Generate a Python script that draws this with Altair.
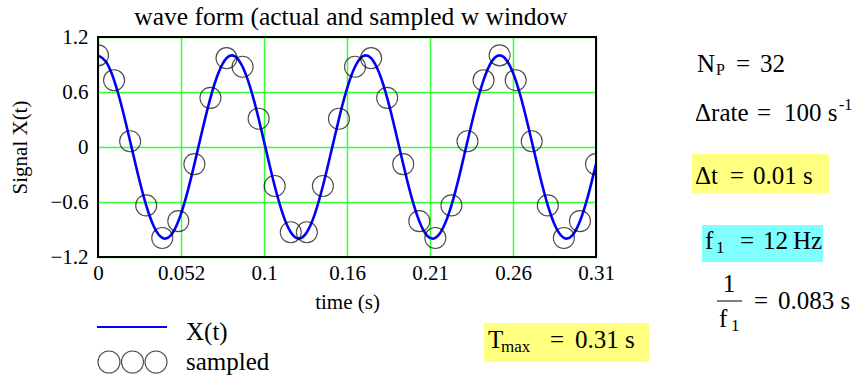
import altair as alt
import pandas as pd

SERIF = "'Liberation Serif', 'Times New Roman', Times, 'DejaVu Serif', serif"

# continuous signal X(t) = cos(2*pi*12*t), read at 5 ms steps
t_curve = [0.000, 0.005, 0.010, 0.015, 0.020, 0.025, 0.030, 0.035, 0.040, 0.045,
           0.050, 0.055, 0.060, 0.065, 0.070, 0.075, 0.080, 0.085, 0.090, 0.095,
           0.100, 0.105, 0.110, 0.115, 0.120, 0.125, 0.130, 0.135, 0.140, 0.145,
           0.150, 0.155, 0.160, 0.165, 0.170, 0.175, 0.180, 0.185, 0.190, 0.195,
           0.200, 0.205, 0.210, 0.215, 0.220, 0.225, 0.230, 0.235, 0.240, 0.245,
           0.250, 0.255, 0.260, 0.265, 0.270, 0.275, 0.280, 0.285, 0.290, 0.295,
           0.300, 0.305, 0.310]
x_curve = [1.000, 0.930, 0.729, 0.426, 0.063, -0.309, -0.637, -0.876, -0.992, -0.969,
           -0.809, -0.536, -0.187, 0.187, 0.536, 0.809, 0.969, 0.992, 0.876, 0.637,
           0.309, -0.063, -0.426, -0.729, -0.930, -1.000, -0.930, -0.729, -0.426, -0.063,
           0.309, 0.637, 0.876, 0.992, 0.969, 0.809, 0.536, 0.187, -0.187, -0.536,
           -0.809, -0.969, -0.992, -0.876, -0.637, -0.309, 0.063, 0.426, 0.729, 0.930,
           1.000, 0.930, 0.729, 0.426, 0.063, -0.309, -0.637, -0.876, -0.992, -0.969,
           -0.809, -0.536, -0.187]

# sampled values, one every 0.01 s (32 points)
t_sampled = [0.00, 0.01, 0.02, 0.03, 0.04, 0.05, 0.06, 0.07, 0.08, 0.09,
             0.10, 0.11, 0.12, 0.13, 0.14, 0.15, 0.16, 0.17, 0.18, 0.19,
             0.20, 0.21, 0.22, 0.23, 0.24, 0.25, 0.26, 0.27, 0.28, 0.29,
             0.30, 0.31]
x_sampled = [1.000, 0.729, 0.063, -0.637, -0.992, -0.809, -0.187, 0.536, 0.969, 0.876,
             0.309, -0.426, -0.930, -0.930, -0.426, 0.309, 0.876, 0.969, 0.536, -0.187,
             -0.809, -0.992, -0.637, 0.063, 0.729, 1.000, 0.729, 0.063, -0.637, -0.992,
             -0.809, -0.187]

T_MAX = 0.31
# six equal grid divisions over [0, T_MAX]
x_tick_values = [T_MAX * k / 6 for k in range(7)]
x_tick_labels = ["0", "0.052", "0.1", "0.16", "0.21", "0.26", "0.31"]
y_tick_values = [-1.2, -0.6, 0.0, 0.6, 1.2]
y_tick_labels = ["\u22121.2", "\u22120.6", "0", "0.6", "1.2"]

W, H = 498, 220          # plot area
X0, Y0 = 98, 37          # plot origin on the page
GRID = "#33ff33"
FS = 25                  # size of the parameter text

curve = pd.DataFrame({"t": t_curve, "x": x_curve})
samples = pd.DataFrame({"t": t_sampled, "x": x_sampled})
one = pd.DataFrame({"k": [0]})

x_label_expr = ("[" + ",".join(f"'{s}'" for s in x_tick_labels) + "]"
                f"[round(datum.value * 6 / {T_MAX})]")
y_label_expr = ("[" + ",".join(f"'{s}'" for s in y_tick_labels) + "]"
                "[round((datum.value + 1.2) / 0.6)]")

x_enc = alt.X("t:Q", scale=alt.Scale(domain=[0, T_MAX], nice=False, zero=False),
              axis=alt.Axis(values=x_tick_values, labelExpr=x_label_expr, title="time (s)",
                            grid=True, gridColor=GRID, gridWidth=1.5, ticks=False,
                            domain=False, labelFont=SERIF, labelFontSize=21, labelColor="black",
                            labelPadding=5, labelFlush=False, labelOverlap=False,
                            titleFont=SERIF, titleFontSize=21, titleFontWeight="normal",
                            titleColor="black", titlePadding=8))
y_enc = alt.Y("x:Q", scale=alt.Scale(domain=[-1.2, 1.2], nice=False, zero=False),
              axis=alt.Axis(values=y_tick_values, labelExpr=y_label_expr, title="Signal X(t)",
                            grid=True, gridColor=GRID, gridWidth=1.5, ticks=False,
                            domain=False, labelFont=SERIF, labelFontSize=21, labelColor="black",
                            labelPadding=10, labelFlush=False, labelOverlap=False,
                            titleFont=SERIF, titleFontSize=21, titleFontWeight="normal",
                            titleColor="black", titlePadding=19))

line = alt.Chart(curve).mark_line(color="#0000ff", strokeWidth=2.6, interpolate="natural",
                                  clip=True).encode(x=x_enc, y=y_enc)
points = alt.Chart(samples).mark_point(shape="circle", size=441, filled=False, color="black",
                                       strokeWidth=1.1, clip=True).encode(x=x_enc, y=y_enc)

frame = alt.Chart(one).mark_rect(fillOpacity=0, stroke="black", strokeWidth=2).encode(
    x=alt.value(0), x2=alt.value(W), y=alt.value(0), y2=alt.value(H))


def txt(s, x, y, size=FS, align="left", baseline="alphabetic"):
    return alt.Chart(one).mark_text(text=s, font=SERIF, fontSize=size, align=align,
                                    baseline=baseline, color="black").encode(
        x=alt.value(x - X0), y=alt.value(y - Y0))


def box(x1, y1, x2, y2, color):
    return alt.Chart(one).mark_rect(color=color).encode(
        x=alt.value(x1 - X0), x2=alt.value(x2 - X0), y=alt.value(y1 - Y0), y2=alt.value(y2 - Y0))


layers = [line, points, frame]

# title
layers.append(txt("wave form (actual and sampled w window", 351, 25, size=25.5, align="center"))

# legend
layers.append(alt.Chart(one).mark_rule(color="#0000ff", strokeWidth=2).encode(
    x=alt.value(97 - X0), x2=alt.value(167 - X0), y=alt.value(327 - Y0)))
layers.append(txt("X(t)", 186, 340, size=25))
for cx in (109, 132.5, 156):
    layers.append(alt.Chart(one).mark_point(shape="circle", size=484, filled=False,
                                            color="black", strokeWidth=1.1).encode(
        x=alt.value(cx - X0), y=alt.value(362 - Y0)))
layers.append(txt("sampled", 186, 370, size=25))

# parameter block
layers.append(txt("N", 697, 72))
layers.append(txt("P", 716, 75, size=16))
layers.append(txt("=", 736, 72))
layers.append(txt("32", 760, 72))

layers.append(txt("\u0394rate", 695, 121))
layers.append(txt("=", 757, 121))
layers.append(txt("100 s", 784, 121))
layers.append(txt("-1", 839, 110, size=16))

layers.append(box(692, 154, 829, 193, "#ffff80"))
layers.append(txt("\u0394t", 695, 184))
layers.append(txt("=", 730, 184))
layers.append(txt("0.01 s", 753, 184))

layers.append(box(702, 225, 823, 262, "#80ffff"))
layers.append(txt("f", 705, 249))
layers.append(txt("1", 716, 253, size=17))
layers.append(txt("=", 740, 249))
layers.append(txt("12\u2009Hz", 763, 249))

layers.append(txt("1", 729, 292, align="center"))
layers.append(alt.Chart(one).mark_rule(color="black", strokeWidth=1).encode(
    x=alt.value(717 - X0), x2=alt.value(742 - X0), y=alt.value(301 - Y0)))
layers.append(txt("f", 719, 327))
layers.append(txt("1", 731, 331, size=17))
layers.append(txt("=", 754, 309))
layers.append(txt("0.083 s", 778, 309))

layers.append(box(484, 323, 649, 362, "#ffff80"))
layers.append(txt("T", 488, 348))
layers.append(txt("max", 501, 352, size=17))
layers.append(txt("=", 550, 348))
layers.append(txt("0.31 s", 575, 348))

chart = alt.layer(*layers).properties(
    width=W, height=H,
    autosize=alt.AutoSizeParams(type="none"),
    padding={"left": X0, "top": Y0, "right": 859 - X0 - W, "bottom": 379 - Y0 - H},
    background="white",
).configure_view(stroke=None).configure_axis(gridColor=GRID)

chart.save("out.html", embed_options={"renderer": "svg", "actions": False})
